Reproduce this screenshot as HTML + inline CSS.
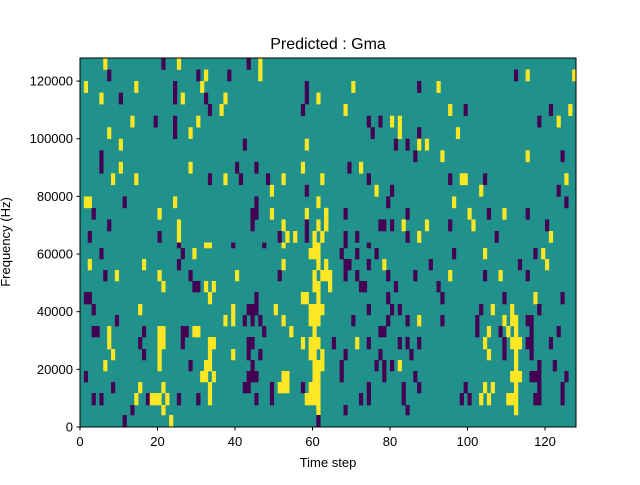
<!DOCTYPE html>
<html><head><meta charset="utf-8"><style>
body{margin:0;background:#fff;width:640px;height:480px;overflow:hidden;font-family:"Liberation Sans","DejaVu Sans",sans-serif}
svg text{font-family:"Liberation Sans","DejaVu Sans",sans-serif;font-size:13px;fill:#000}
</style></head><body>
<svg id="s" width="640" height="480" xmlns="http://www.w3.org/2000/svg">
<rect x="0" y="0" width="640" height="480" fill="#fff"/>
<rect x="80" y="58" width="496" height="369" fill="#21918c"/>
<g id="cells"></g>
<rect x="80" y="58" width="496" height="369" fill="none" stroke="#000" stroke-width="1"/>
<g id="ticks" stroke="#000" stroke-width="1"></g>
<g id="labels"></g>
<text x="328" y="49" text-anchor="middle" style="font-size:16px">Predicted : Gma</text>
<text x="328" y="467" text-anchor="middle">Time step</text>
<text transform="translate(10,242) rotate(-90)" text-anchor="middle">Frequency (Hz)</text>
</svg>
<script>
var rows=[
[58,69.5,"P21 Y6 Y25 P43 Y46"],
[69.5,81,"P7 P30 Y32 P38 Y46 P112 Y115 Y127"],
[81,92.6,"Y1 Y14 P24 Y31 P58 Y70 P87 Y92"],
[92.6,104.1,"Y5 P10 P24 Y26 P32 Y37 P58 Y61"],
[104.1,115.7,"P33 Y36 P57 Y68 Y95 P99 P121 Y126"],
[115.7,127.2,"Y13 P19 P24 Y30 P74 P77 Y80 Y82 P118 Y123"],
[127.2,138.7,"Y7 P24 Y28 P75 Y82 P87 Y97"],
[138.7,150.3,"Y10 P42 Y58 P81 P84 Y87 Y89"],
[150.3,161.8,"P5 P86 Y93 Y115 P124"],
[161.8,173.3,"P5 Y10 Y28 P40 P45 Y57 P69 Y72"],
[173.3,184.8,"Y8 Y14 P33 Y37 P41 P48 Y52 Y62 P74 P95 Y98-99 P104 Y125"],
[184.8,196.4,"Y49 P58 Y76 P80 Y103 P123"],
[196.4,207.9,"Y1-2 P11 Y24 P45 Y61 P79 Y96 P125"],
[207.9,219.4,"P3 Y20 P44-45 Y49 Y58 Y63 Y63 P68 P84 Y100 P105 Y109 P115"],
[219.4,231,"P7 Y25 P44 Y52 P58 Y61 Y63 Y63 P77-78 P80 Y83 Y89 P95 Y101 P120"],
[231,242.5,"P2 P20 Y25 P51 Y53 Y55 P58 Y60 Y62 P68 P71 P84 Y87 P107 Y121"],
[242.5,248,"P25 Y32-33 P39 P47 Y52 Y60-61 P68 P74"],
[248,259,"P5 P26 Y29 Y59-61 P67 P71 P76 P96 Y104 P117 Y119"],
[259,270,"Y2 Y16 P25 Y52 Y61 Y63 P68-69 P74 Y78 P90 P113 Y120"],
[270,281,"P6 Y9 Y20 P28 Y40 P51 Y60 Y62-64 P68 P71 P79 P86 Y95 P104 Y108 P115"],
[281,292,"Y21 P29-30 Y32 Y34 Y60-61 Y64 P72-73 P81 P92"],
[292,304,"P1-2 Y33 P45 Y57-58 Y61 P79 P93 P109 Y117 P124"],
[304,315,"P3 Y15 Y39 P43-45 Y50 Y59-62 P74 P80 P82 P103 Y106 Y111 P118"],
[315,326,"P9 Y37 Y39 P42 P44 P46 Y52 Y59-61 P70 P79 P84 Y87 P93 P102 Y109 Y111-112 P115-116"],
[326,337,"P3-4 Y7 P16 Y20-21 P26-27 Y29-30 P47 Y54 Y60 P77-78 P102 Y105 P108 Y110 Y112 P116 P123"],
[337,349,"Y7 P15 Y20-21 P26 Y33-34 P43-44 Y57 Y59-61 P65 Y71 P74 P82 P84 P87 Y104 P109 Y111-113 P115-116 P121"],
[349,360,"Y8 P16 Y20 Y33 Y39 P43 P46 Y59-60 Y62 P68 P77 P85 Y105 P109 Y112 P116"],
[360,371,"Y6 Y20 P28 Y32-33 P44 Y60-62 P67 P76 P78 P80 Y82 Y112 P118 P122"],
[371,382,"P1 Y31-32 Y34 P43-45 Y52-53 Y60-61 P67 P78 P86 Y111-113 P116-118 P125"],
[382,393,"P8 Y15 Y21 Y33 P42-43 P49 Y51-53 P57 Y59-61 P74 P83 P87 P99 Y104 Y106 Y112 P118 P124"],
[393,405,"P3 P5 Y14 P17 Y18-20 Y22 P25 P30 Y33 P45 P49 Y58-61 P72 P74 P83 P98 P100 Y103 Y105 Y110-112 P117-118 P124"],
[405,415,"P13 Y21 Y61 P68 P84 Y112"],
[415,427,"P11 Y23 P61"]
];
var g=document.getElementById('cells'),ns="http://www.w3.org/2000/svg",w=496/128;
rows.forEach(function(r){r[2].split(' ').forEach(function(t){
 var c=t[0]=='Y'?'#fde725':'#440154',p=t.slice(1).split('-'),a=+p[0],b=p.length>1?+p[1]:a;
 var e=document.createElementNS(ns,'rect');e.setAttribute('x',80+a*w);e.setAttribute('y',r[0]);
 e.setAttribute('width',(b-a+1)*w+0.3);e.setAttribute('height',r[1]-r[0]+0.3);e.setAttribute('fill',c);g.appendChild(e);});});
var tk=document.getElementById('ticks'),lb=document.getElementById('labels');
function ln(x1,y1,x2,y2){var e=document.createElementNS(ns,'line');e.setAttribute('x1',x1);e.setAttribute('y1',y1);e.setAttribute('x2',x2);e.setAttribute('y2',y2);tk.appendChild(e);}
function tx(x,y,s,a){var e=document.createElementNS(ns,'text');e.setAttribute('x',x);e.setAttribute('y',y);e.setAttribute('text-anchor',a);e.textContent=s;lb.appendChild(e);}
for(var v=0;v<=120;v+=20){var x=80+v*w;ln(x,427,x,430.5);tx(x,446,String(v),'middle');}
for(var f=0;f<=120000;f+=20000){var y=427-f*369/128000;ln(76.5,y,80,y);tx(73,y+4.5,String(f),'end');}
</script>
</body></html>
